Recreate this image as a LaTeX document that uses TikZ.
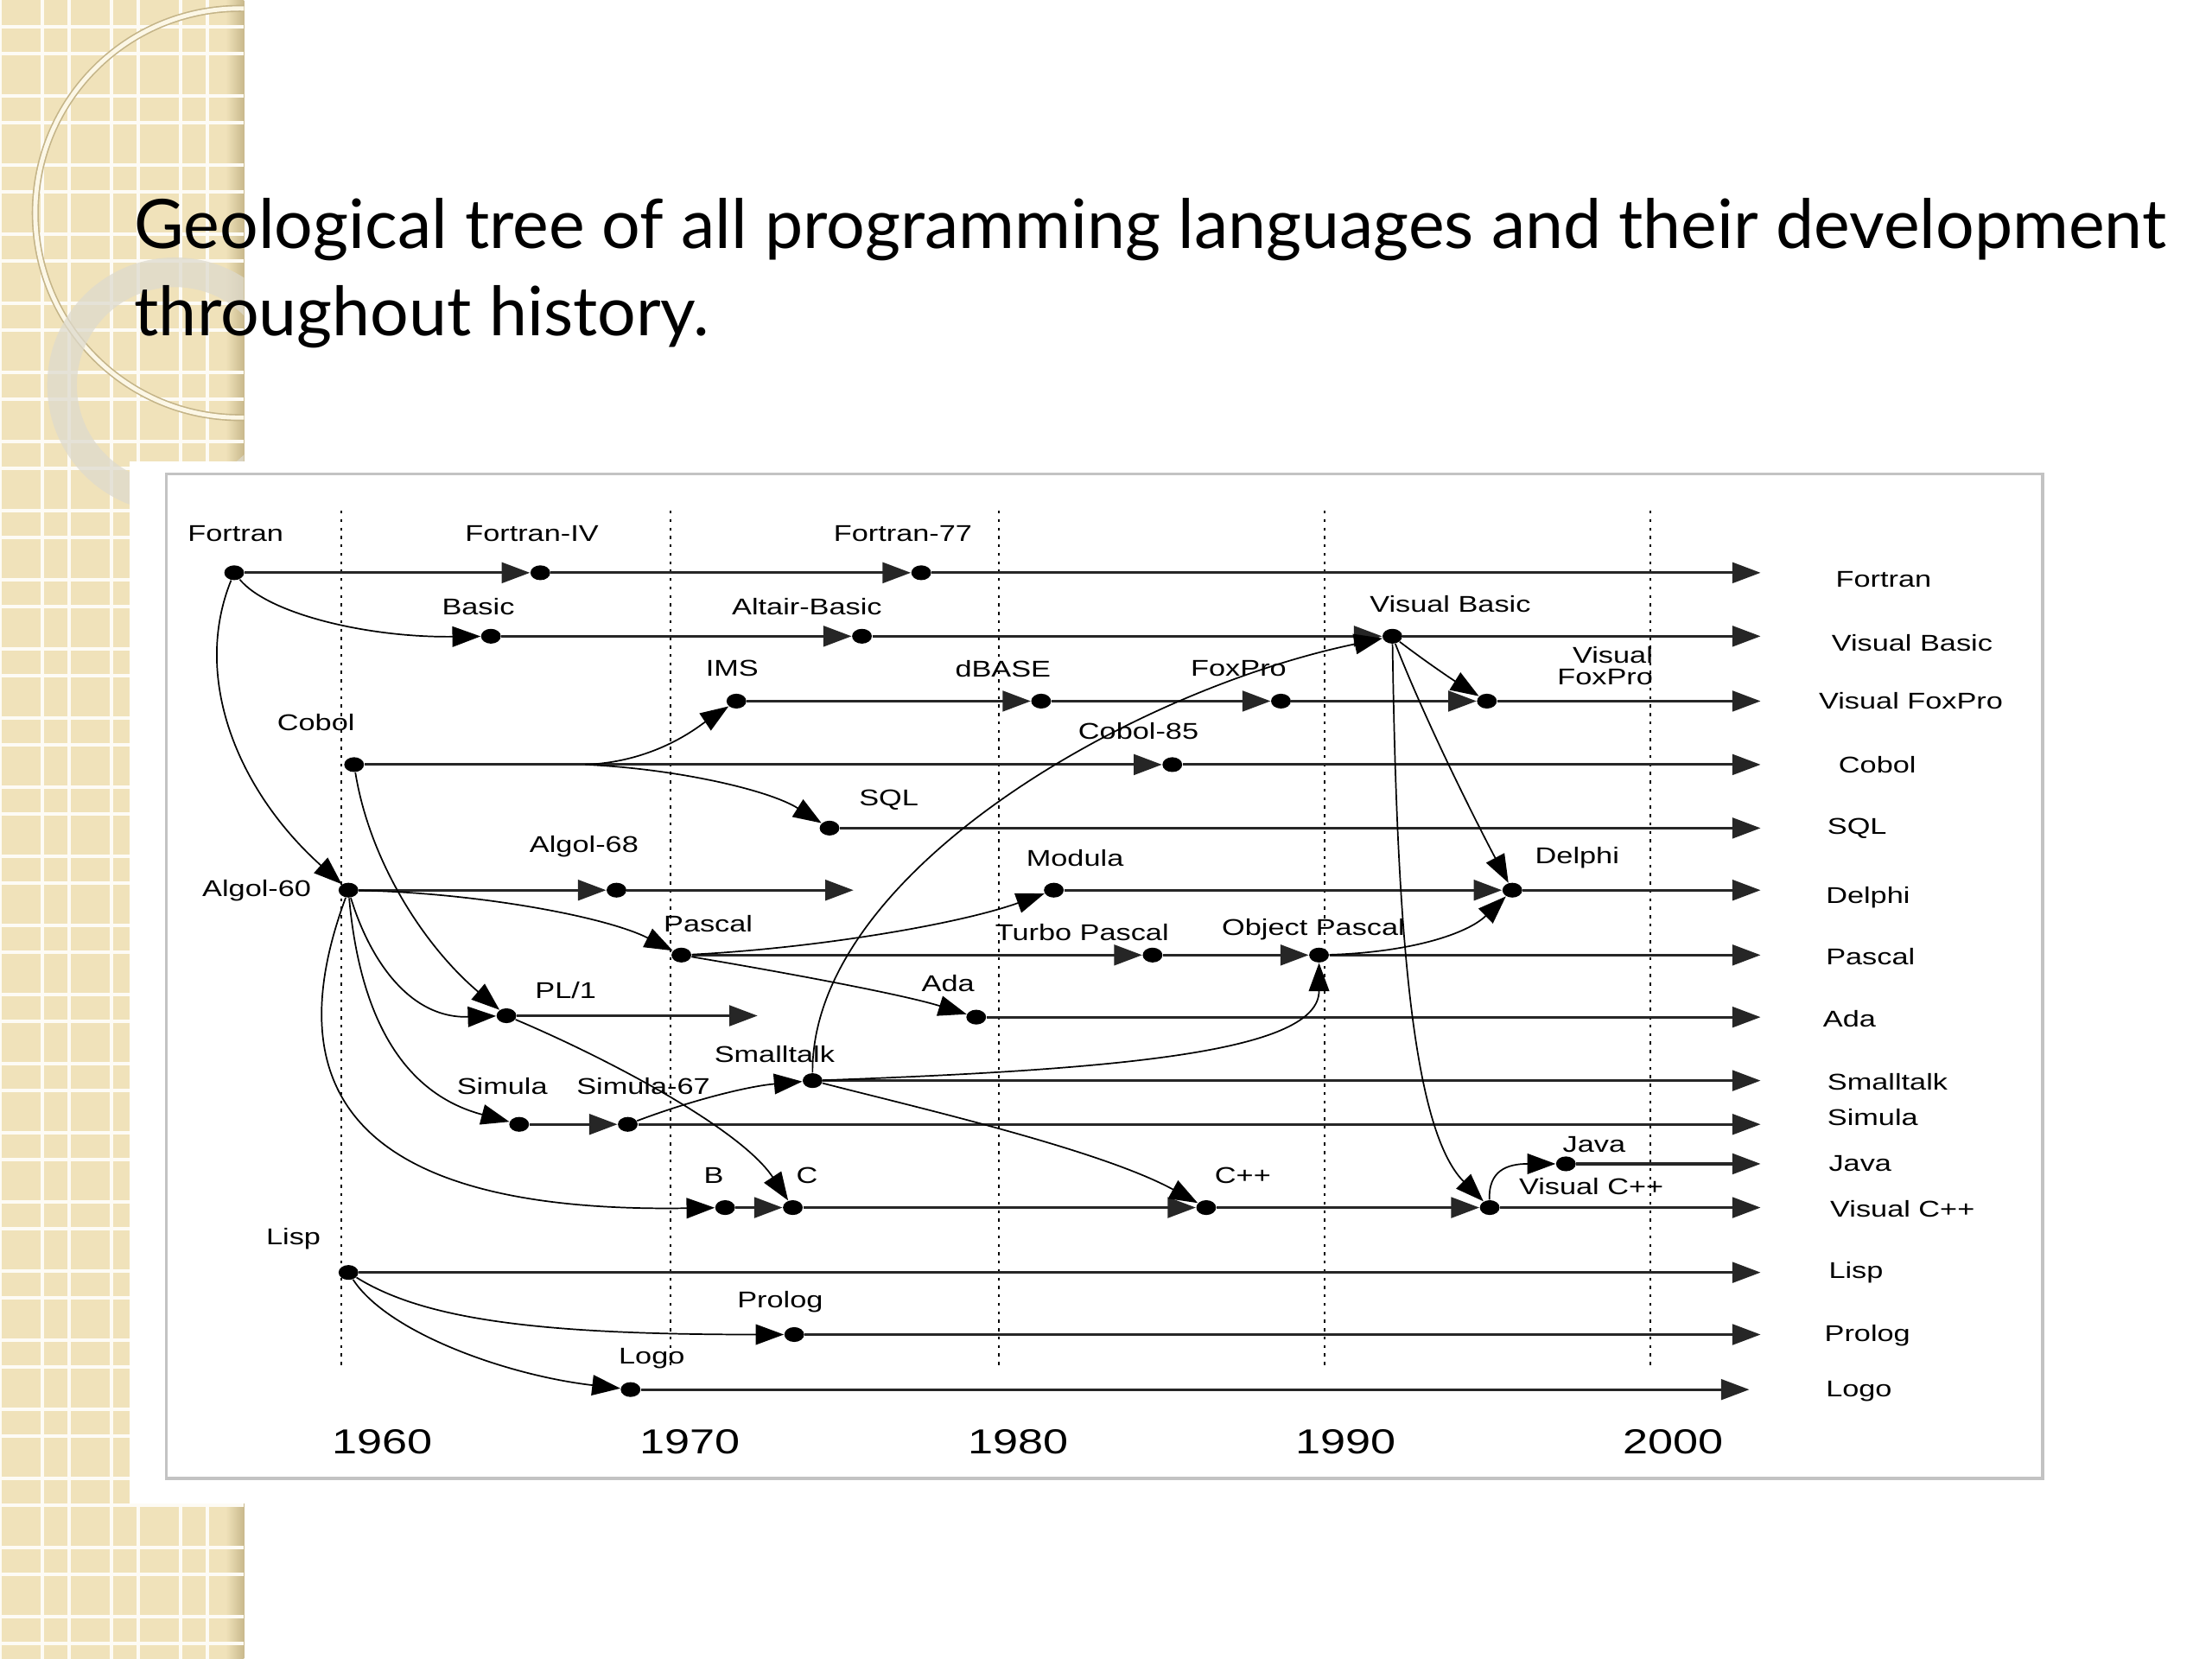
\documentclass[tikz,border=0pt]{standalone}
\usepackage{fontspec}
\usetikzlibrary{arrows.meta,shapes.geometric}
\newfontfamily\diagfont[FakeStretch=1.3]{Liberation Sans}
\newfontfamily\titlefont{Lato}

\definecolor{stripbeige}{RGB}{240,226,186}
\definecolor{stripshadow}{RGB}{200,184,140}
\definecolor{ringcream}{RGB}{252,247,230}
\definecolor{ringshade}{RGB}{196,180,136}
\definecolor{ringgray}{RGB}{222,218,205}
\definecolor{framegray}{RGB}{195,195,195}

\tikzset{
	dot/.style={ellipse, fill=black, inner sep=0pt, minimum width=0.28cm, minimum height=0.21cm},
	lang/.style={font=\diagfont\fontsize{9.2}{8.6}\selectfont, inner sep=0pt},
	year/.style={font=\diagfont\fontsize{14}{16}\selectfont, inner sep=0pt},
	title/.style={font=\titlefont\fontsize{27.5}{32}\selectfont, inner sep=0pt, anchor=base west},
	tip/.style={-{Triangle[length=0.4cm,width=0.29cm]}},
	flow/.style={tip, line width=1.1pt, draw=black!85},
	link/.style={tip, line width=0.6pt},
	yearline/.style={dash pattern=on 1.2pt off 2.2pt, line width=0.7pt},
	gridline/.style={white!85!stripbeige, line width=0.04cm}
}

\begin{document}
\begin{tikzpicture}[x=0.02cm, y=-0.02cm]
	\useasboundingbox (0,0) rectangle (1568,1176);
	% slide decoration on the left
	\fill[stripbeige] (0,0) rectangle (173,1176);
	\shade[left color=stripbeige, right color=stripshadow] (160,0) rectangle (173,1176);
	\foreach \gx in {0,30,49,79,98,128,147}
		\draw[gridline] (\gx,0) -- (\gx,1176);
	\foreach \k in {0,...,23} {
		\draw[gridline] (0,{49*\k+19}) -- (173,{49*\k+19});
		\draw[gridline] (0,{49*\k+38}) -- (173,{49*\k+38});
	}
	\begin{scope}
		\clip (0,0) rectangle (173,1176);
		\draw[ringshade, line width=0.1cm] (170,151) circle[radius=145];
		\draw[ringcream, line width=0.06cm] (170,151) circle[radius=145];
		\draw[ringgray, line width=0.42cm, opacity=0.75] (124,273) circle[radius=80];
	\end{scope}
	\fill[white] (92,327) rectangle (1460,1066);
	\draw[framegray, line width=0.04cm] (118,336) rectangle (1448,1048);

	% title
	\node[title] (title1) at (95,176) {Geological tree of all programming languages and their development};
	\node[title] (title2) at (95,238) {throughout history.};

	% decades
	\draw[yearline] (242,362) -- (242,968);
	\draw[yearline] (475,362) -- (475,968);
	\draw[yearline] (708,362) -- (708,968);
	\draw[yearline] (939,362) -- (939,968);
	\draw[yearline] (1170,362) -- (1170,968);
	\node[year] at (271,1022) {1960};
	\node[year] at (489,1022) {1970};
	\node[year] at (722,1022) {1980};
	\node[year] at (954,1022) {1990};
	\node[year] at (1186,1022) {2000};

	% languages
	\node[dot] (fortran) at (166,406) {};
	\node[dot] (fortraniv) at (383,406) {};
	\node[dot] (fortran77) at (653,406) {};
	\node[dot] (basic) at (348,451) {};
	\node[dot] (altair) at (611,451) {};
	\node[dot] (vbasic) at (987,451) {};
	\node[dot] (ims) at (522,497) {};
	\node[dot] (dbase) at (738,497) {};
	\node[dot] (foxpro) at (908,497) {};
	\node[dot] (vfoxpro) at (1054,497) {};
	\node[dot] (cobol) at (251,542) {};
	\node[dot] (cobol85) at (831,542) {};
	\node[dot] (sql) at (588,587) {};
	\node[dot] (algol60) at (247,631) {};
	\node[dot] (algol68) at (437,631) {};
	\node[dot] (modula) at (747,631) {};
	\node[dot] (delphi) at (1072,631) {};
	\node[dot] (pascal) at (483,677) {};
	\node[dot] (turbo) at (817,677) {};
	\node[dot] (objpascal) at (935,677) {};
	\node[dot] (pli) at (359,720) {};
	\node[dot] (ada) at (692,721) {};
	\node[dot] (smalltalk) at (576,766) {};
	\node[dot] (simula) at (368,797) {};
	\node[dot] (simula67) at (445,797) {};
	\node[dot] (java) at (1110,825) {};
	\node[dot] (bdot) at (514,856) {};
	\node[dot] (cdot) at (562,856) {};
	\node[dot] (cpp) at (855,856) {};
	\node[dot] (vcpp) at (1056,856) {};
	\node[dot] (lisp) at (247,902) {};
	\node[dot] (prolog) at (563,946) {};
	\node[dot] (logo) at (447,985) {};

	\node[lang] at (167,378) {Fortran};
	\node[lang] at (377,378) {Fortran-IV};
	\node[lang] at (640,378) {Fortran-77};
	\node[lang] at (339,430) {Basic};
	\node[lang] at (572,430) {Altair-Basic};
	\node[lang] at (1028,428) {Visual Basic};
	\node[lang] at (519,474) {IMS};
	\node[lang] at (711,474) {dBASE};
	\node[lang] at (878,474) {FoxPro};
	\node[lang, anchor=east, align=right] at (1172,472) {Visual\\FoxPro};
	\node[lang] at (224,512) {Cobol};
	\node[lang] at (807,518) {Cobol-85};
	\node[lang] at (630,567) {SQL};
	\node[lang] at (414,600) {Algol-68};
	\node[lang] at (182,631) {Algol-60};
	\node[lang] at (762,608) {Modula};
	\node[lang] at (1118,608) {Delphi};
	\node[lang] at (502,655) {Pascal};
	\node[lang] at (767,661) {Turbo Pascal};
	\node[lang] at (931,659) {Object Pascal};
	\node[lang] at (401,702) {PL/1};
	\node[lang] at (672,697) {Ada};
	\node[lang] at (549,747) {Smalltalk};
	\node[lang] at (356,770) {Simula};
	\node[lang] at (456,770) {Simula-67};
	\node[lang] at (1130,811) {Java};
	\node[lang] at (1128,841) {Visual C++};
	\node[lang] at (506,833) {B};
	\node[lang] at (572,833) {C};
	\node[lang] at (881,833) {C++};
	\node[lang] at (208,878) {Lisp};
	\node[lang] at (553,923) {Prolog};
	\node[lang] at (462,963) {Logo};

	% today
	\coordinate (fortranend) at (1248,406);
	\coordinate (vbasicend) at (1248,451);
	\coordinate (vfoxproend) at (1248,497);
	\coordinate (cobolend) at (1248,542);
	\coordinate (sqlend) at (1248,587);
	\coordinate (delphiend) at (1248,631);
	\coordinate (pascalend) at (1248,677);
	\coordinate (adaend) at (1248,721);
	\coordinate (smalltalkend) at (1248,766);
	\coordinate (simulaend) at (1248,797);
	\coordinate (javaend) at (1248,825);
	\coordinate (vcppend) at (1248,856);
	\coordinate (lispend) at (1248,902);
	\coordinate (prologend) at (1248,946);
	\coordinate (logoend) at (1240,985);
	\coordinate (algol68end) at (605,631);
	\coordinate (pliend) at (537,720);
	\coordinate (cobolfork) at (415,542);

	\node[lang, anchor=west] at (1301,411) {Fortran};
	\node[lang, anchor=west] at (1298,456) {Visual Basic};
	\node[lang, anchor=west] at (1289,497) {Visual FoxPro};
	\node[lang, anchor=west] at (1303,542) {Cobol};
	\node[lang, anchor=west] at (1295,587) {SQL};
	\node[lang, anchor=west] at (1294,636) {Delphi};
	\node[lang, anchor=west] at (1294,678) {Pascal};
	\node[lang, anchor=west] at (1292,722) {Ada};
	\node[lang, anchor=west] at (1295,767) {Smalltalk};
	\node[lang, anchor=west] at (1295,792) {Simula};
	\node[lang, anchor=west] at (1296,825) {Java};
	\node[lang, anchor=west] at (1297,857) {Visual C++};
	\node[lang, anchor=west] at (1296,902) {Lisp};
	\node[lang, anchor=west] at (1293,947) {Prolog};
	\node[lang, anchor=west] at (1294,986) {Logo};

	% straight lines of descent
	\draw[flow] (fortran) -- (fortraniv);
	\draw[flow] (fortraniv) -- (fortran77);
	\draw[flow] (fortran77) -- (fortranend);
	\draw[flow] (basic) -- (altair);
	\draw[flow] (altair) -- (vbasic);
	\draw[flow] (vbasic) -- (vbasicend);
	\draw[flow] (ims) -- (dbase);
	\draw[flow] (dbase) -- (foxpro);
	\draw[flow] (foxpro) -- (vfoxpro);
	\draw[flow] (vfoxpro) -- (vfoxproend);
	\draw[flow] (cobol) -- (cobol85);
	\draw[flow] (cobol85) -- (cobolend);
	\draw[flow] (sql) -- (sqlend);
	\draw[flow] (algol60) -- (algol68);
	\draw[flow] (algol68) -- (algol68end);
	\draw[flow] (modula) -- (delphi);
	\draw[flow] (delphi) -- (delphiend);
	\draw[flow] (pascal) -- (turbo);
	\draw[flow] (turbo) -- (objpascal);
	\draw[flow] (objpascal) -- (pascalend);
	\draw[flow] (pli) -- (pliend);
	\draw[flow] (ada) -- (adaend);
	\draw[flow] (smalltalk) -- (smalltalkend);
	\draw[flow] (simula) -- (simula67);
	\draw[flow] (simula67) -- (simulaend);
	\draw[flow] (java) -- (javaend);
	\draw[flow] (bdot) -- (cdot);
	\draw[flow] (cdot) -- (cpp);
	\draw[flow] (cpp) -- (vcpp);
	\draw[flow] (vcpp) -- (vcppend);
	\draw[flow] (lisp) -- (lispend);
	\draw[flow] (prolog) -- (prologend);
	\draw[flow] (logo) -- (logoend);

	% influences
	\draw[link] (fortran) .. controls (190,435) and (260,452) .. (basic);
	\draw[link] (fortran) .. controls (136,480) and (168,560) .. (algol60);
	\draw[link] (cobol) .. controls (262,610) and (300,670) .. (pli);
	\draw[link] (cobolfork) .. controls (465,540) and (495,515) .. (ims);
	\draw[link] (cobolfork) .. controls (480,545) and (545,560) .. (sql);
	\draw[link] (algol60) .. controls (340,633) and (430,650) .. (pascal);
	\draw[link] (algol60) .. controls (262,680) and (290,722) .. (pli);
	\draw[link] (algol60) .. controls (255,720) and (285,775) .. (simula);
	\draw[link] (algol60) .. controls (192,780) and (260,860) .. (bdot);
	\draw[link] (pascal) .. controls (580,672) and (680,655) .. (modula);
	\draw[link] (pascal) .. controls (560,690) and (640,705) .. (ada);
	\draw[link] (pli) .. controls (430,750) and (525,800) .. (cdot);
	\draw[link] (simula67) .. controls (490,780) and (530,770) .. (smalltalk);
	\draw[link] (smalltalk) .. controls (575,620) and (800,490) .. (vbasic);
	\draw[link] (smalltalk) .. controls (800,758) and (935,745) .. (objpascal);
	\draw[link] (smalltalk) .. controls (650,785) and (780,815) .. (cpp);
	\draw[link] (objpascal) .. controls (1000,675) and (1040,662) .. (delphi);
	\draw[link] (vbasic) .. controls (1012,470) and (1030,482) .. (vfoxpro);
	\draw[link] (vbasic) .. controls (1010,510) and (1045,580) .. (delphi);
	\draw[link] (vbasic) .. controls (990,650) and (1000,800) .. (vcpp);
	\draw[link] (vcpp) .. controls (1055,830) and (1068,825) .. (java);
	\draw[link] (lisp) .. controls (300,935) and (380,946) .. (prolog);
	\draw[link] (lisp) .. controls (275,945) and (360,975) .. (logo);
\end{tikzpicture}
\end{document}
